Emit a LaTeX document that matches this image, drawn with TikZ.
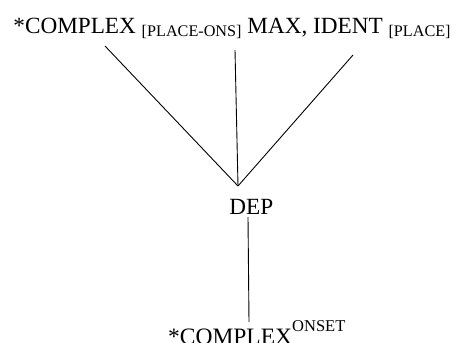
\documentclass[tikz,border=0pt]{standalone}
\usepackage{fontspec}
\setmainfont{Liberation Serif}
\newcommand{\lowtag}[1]{\raisebox{-3.5pt}{\fontsize{16.2}{19}\selectfont #1}}
\newcommand{\hightag}[1]{\raisebox{13pt}{\fontsize{16.5}{19}\selectfont #1}}
\begin{document}
\begin{tikzpicture}[x=1pt,y=1pt,line width=0.9pt]
\useasboundingbox (0,0) rectangle (453,343);
\tikzset{lbl/.style={inner sep=0pt, anchor=base west, font=\fontsize{23.2}{28}\selectfont}}
% constraints on top, joined at one point
\node[lbl] (top) at (13,309.7) {*COMPLEX \lowtag{[PLACE-ONS]} MAX, IDENT \lowtag{[PLACE]}};
\coordinate (c1) at (105,297);
\coordinate (c2) at (235,293);
\coordinate (c3) at (353,288);
\coordinate (j) at (238,157);
\draw (c1) -- (j);
\draw (c2) -- (j);
\draw (c3) -- (j);

\node[lbl] (dep) at (229,128) {DEP};
\node[lbl, font=\fontsize{23.5}{28}\selectfont] (bot) at (167.7,-1.5) {*COMPLEX\hightag{ONSET}};
\coordinate (d1) at (248,126);
\coordinate (d2) at (249,21);
\draw (d1) -- (d2);
\end{tikzpicture}
\end{document}
